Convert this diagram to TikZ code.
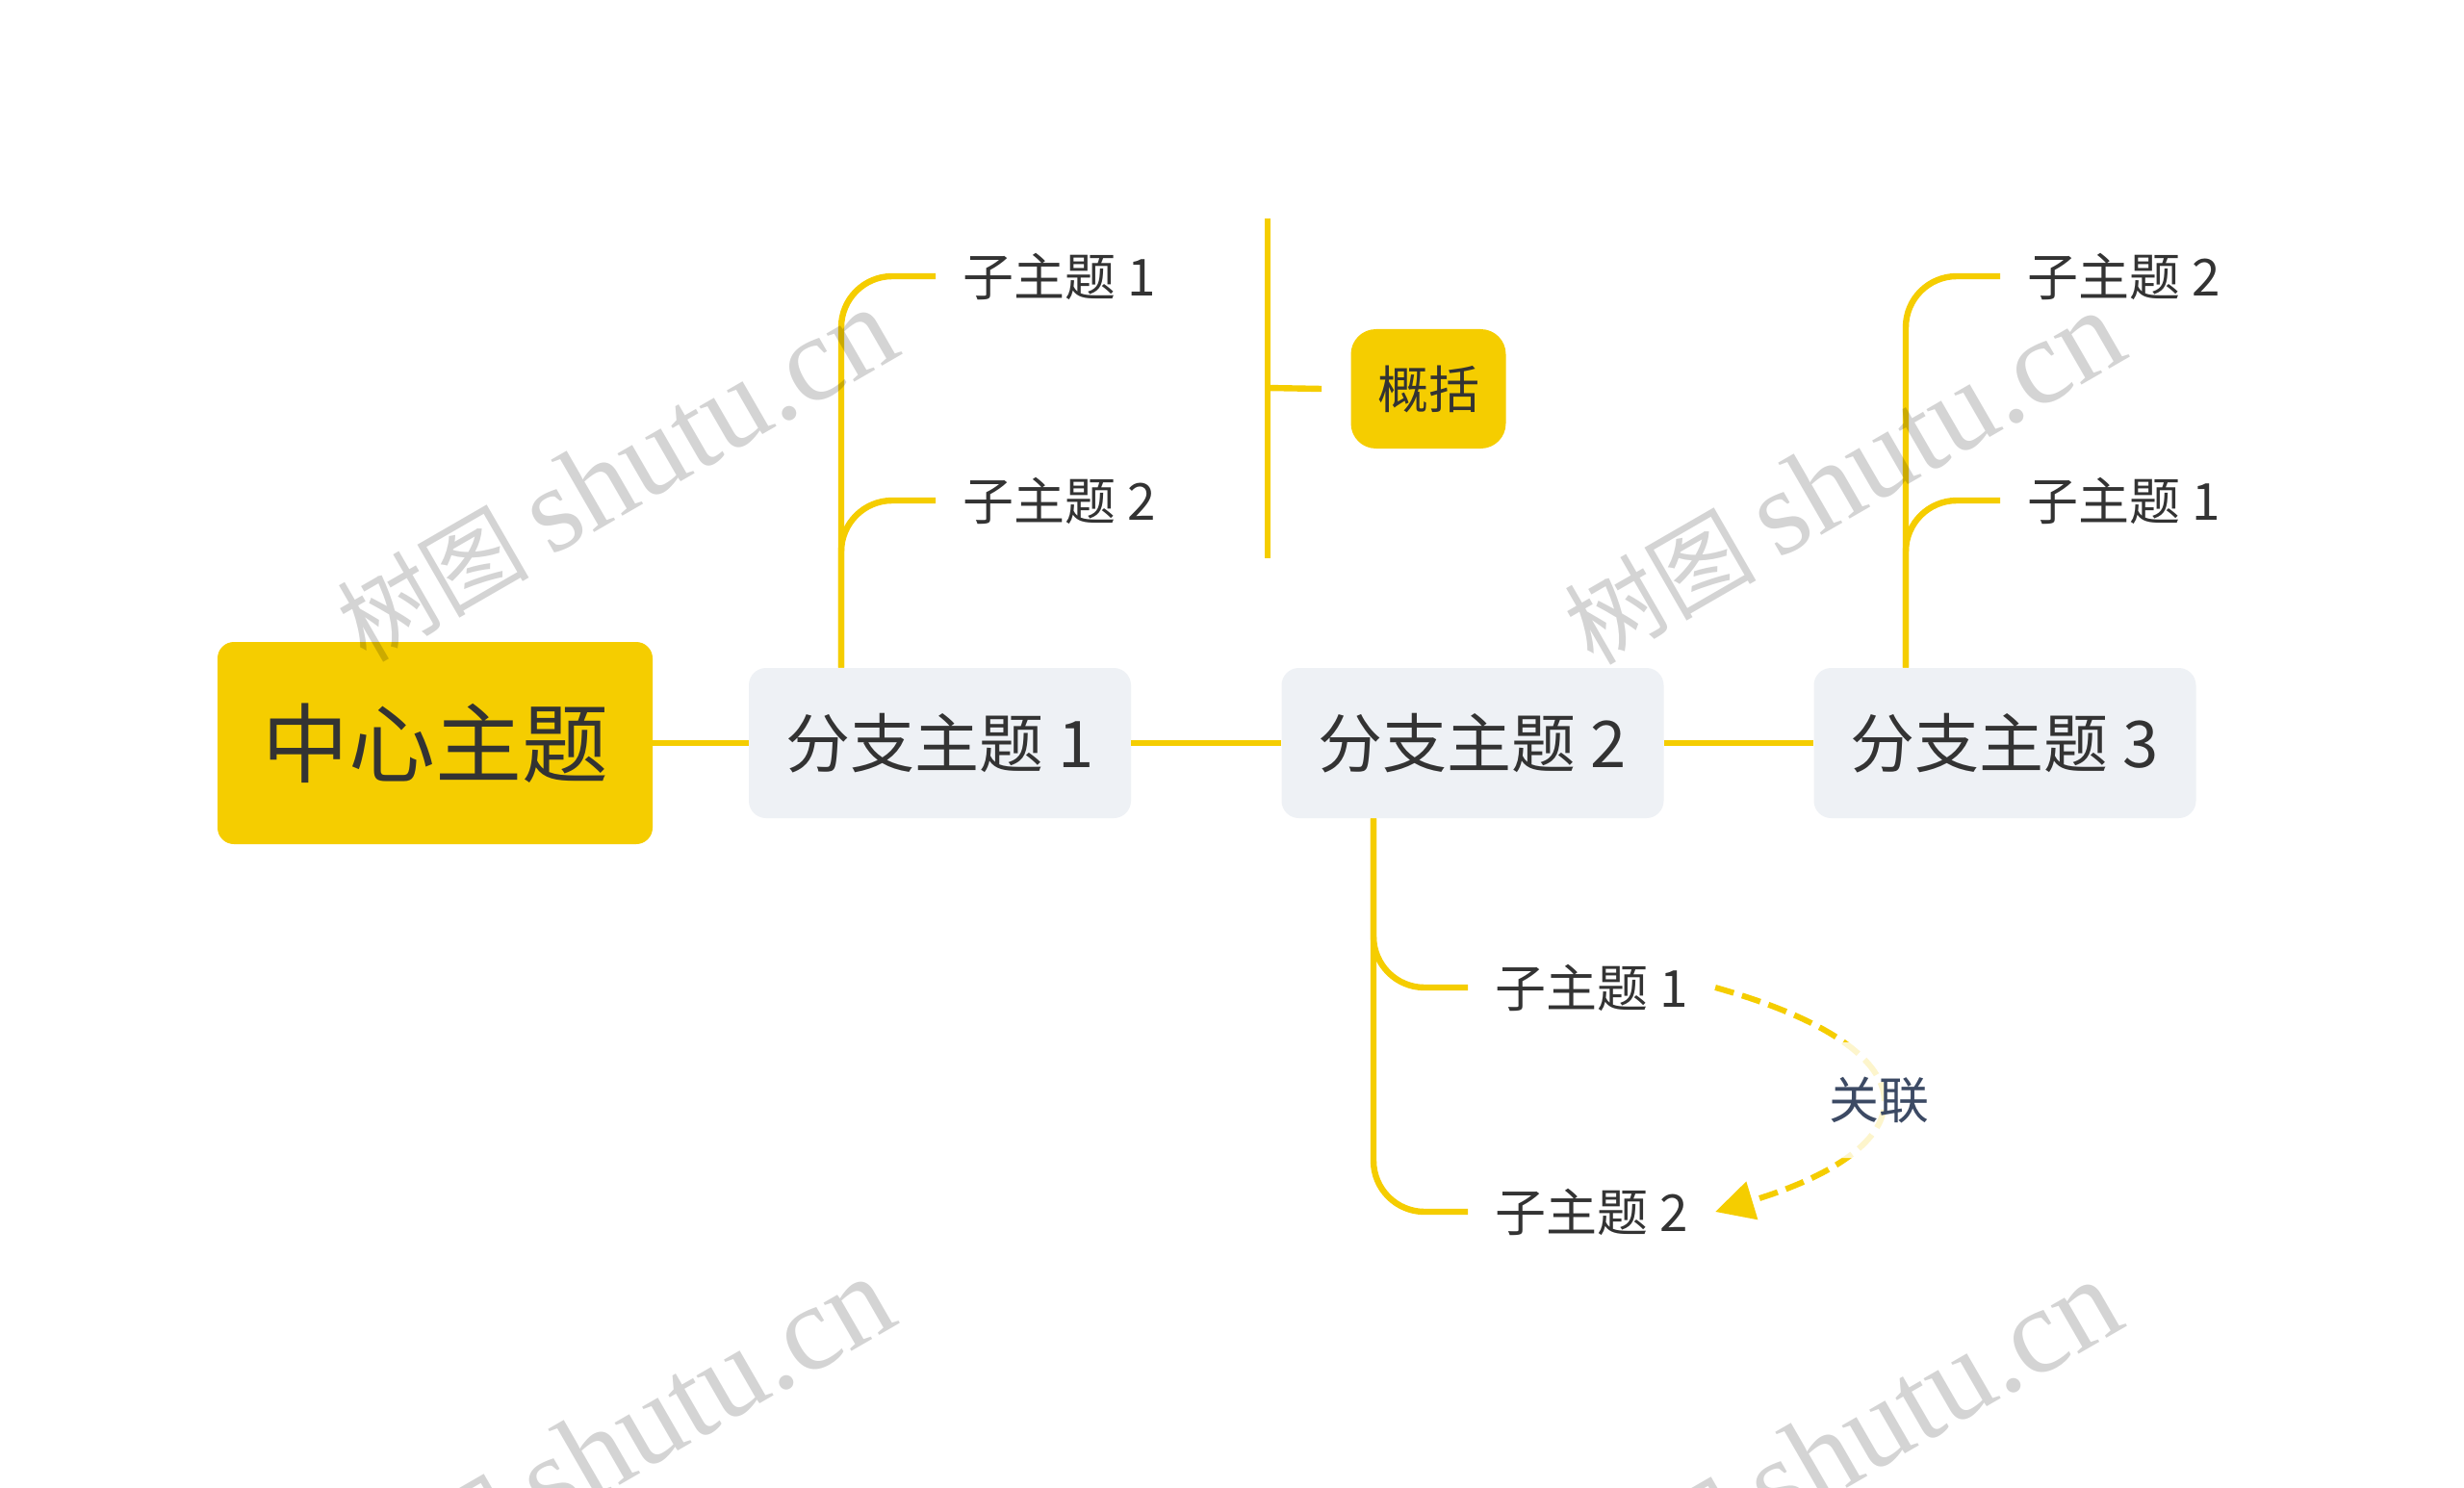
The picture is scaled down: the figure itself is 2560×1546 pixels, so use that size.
\documentclass[tikz,border=0pt]{standalone}
\usepackage{fontspec}
\setmainfont{Noto Sans CJK SC}
\newfontfamily\wmfont{Liberation Serif}
\usetikzlibrary{arrows.meta}
\definecolor{myyellow}{HTML}{F5CD00}
\definecolor{boxgray}{HTML}{EEF1F5}
\definecolor{txt}{HTML}{333333}
\definecolor{reltxt}{HTML}{3C4A64}
\begin{document}
\begin{tikzpicture}[x=0.5pt,y=-0.5pt,
  central/.style={fill=myyellow, rounded corners=8.5pt, minimum width=226pt, minimum height=105pt,
    text=txt, font=\fontsize{45pt}{48pt}\selectfont, inner sep=0pt},
  branchbox/.style={fill=boxgray, rounded corners=9pt, minimum width=198.5pt, minimum height=78pt,
    text=txt, font=\fontsize{33.5pt}{38pt}\selectfont, inner sep=0pt},
  subbox/.style={anchor=west, inner xsep=14pt, inner ysep=0pt, text=txt,
    font=\fontsize{26.5pt}{30pt}\selectfont},
  sumbox/.style={fill=myyellow, rounded corners=13pt, minimum width=80.5pt, minimum height=62pt,
    text=txt, font=\fontsize{26.5pt}{30pt}\selectfont, inner sep=0pt},
  conn/.style={draw=myyellow, line width=3.2pt},
  subconn/.style={conn, rounded corners=26.5pt},
  rel/.style={draw=myyellow, line width=3pt, dash pattern=on 10pt off 4.5pt,
    -{Triangle[length=20pt,width=20pt]}},
  rellabel/.style={fill=white, fill opacity=0.8, text opacity=1, text=reltxt, rounded corners=8pt,
    inner xsep=4pt, inner ysep=18pt, font=\fontsize{26pt}{30pt}\selectfont},
  wm/.style={anchor=base west, rotate=30, text=black, text opacity=0.17, inner sep=0pt,
    font=\fontsize{50pt}{64pt}\selectfont}
]
\fill[white] (0,0) rectangle (2560,1546);
\useasboundingbox (0,0) rectangle (2560,1546);

% main nodes
\node[central] (c) at (452,772) {中心主题};
\node[branchbox] (b1) at (976.5,772) {分支主题 1};
\node[branchbox] (b2) at (1530,772) {分支主题 2};
\node[branchbox] (b3) at (2083,772) {分支主题 3};

% subtopics
\node[subbox] (s11) at (972,287) {子主题 1};
\node[subbox] (s12) at (972,520) {子主题 2};
\node[subbox] (s31) at (2078,287) {子主题 2};
\node[subbox] (s32) at (2078,520) {子主题 1};
\node[subbox] (s21) at (1525,1026) {子主题 1};
\node[subbox] (s22) at (1525,1259) {子主题 2};

% summary
\node[sumbox] (sum) at (1484,404) {概括};
\coordinate (brtop) at (1317,227);
\coordinate (brbot) at (1317,580);
\coordinate (brmid) at (1317,403);

% connectors
\draw[conn] (c.east) -- (b1.west);
\draw[conn] (b1.east) -- (b2.west);
\draw[conn] (b2.east) -- (b3.west);

\draw[subconn] ([xshift=-51.25pt]b1.north) |- (s11.west);
\draw[subconn] ([xshift=-51.25pt]b1.north) |- (s12.west);
\draw[subconn] ([xshift=-51.5pt]b3.north) |- (s31.west);
\draw[subconn] ([xshift=-51.5pt]b3.north) |- (s32.west);
\draw[subconn] ([xshift=-51.5pt]b2.south) |- (s21.west);
\draw[subconn] ([xshift=-51.5pt]b2.south) |- (s22.west);

\draw[conn] (brtop) -- (brbot);
\draw[conn] (brmid) -- ([xshift=-15pt]sum.west);

% relationship
\draw[rel] (s21.east) .. controls (2010,1090) and (2010,1190) .. (s22.east);
\node[rellabel] (rl) at (1952,1143) {关联};

% watermarks
\node[wm] (wm1) at (380,690) {树图 {\wmfont\fontsize{63pt}{66pt}\selectfont shutu.cn}};
\node[wm] (wm2) at (1655,693) {树图 {\wmfont\fontsize{63pt}{66pt}\selectfont shutu.cn}};
\node[wm] (wm3) at (377,1697) {树图 {\wmfont\fontsize{63pt}{66pt}\selectfont shutu.cn}};
\node[wm] (wm4) at (1652,1700) {树图 {\wmfont\fontsize{63pt}{66pt}\selectfont shutu.cn}};
\end{tikzpicture}
\end{document}
